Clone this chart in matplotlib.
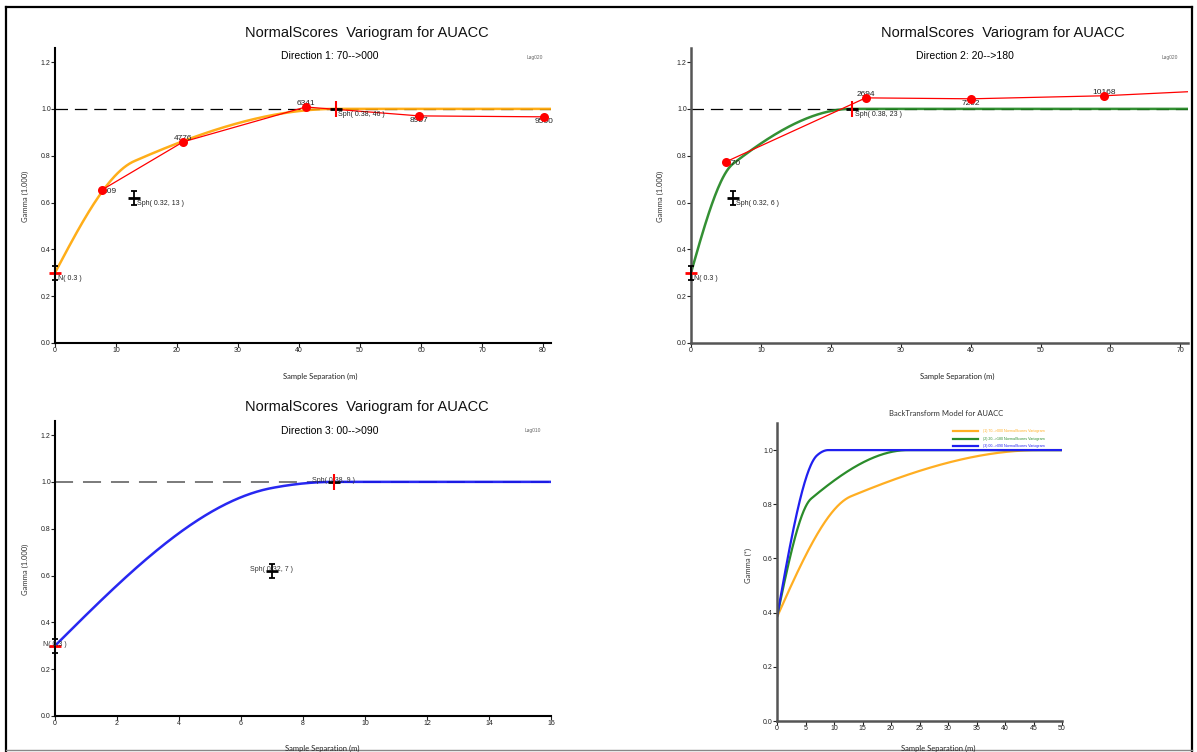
import numpy as np
import matplotlib
matplotlib.use("Agg")
import matplotlib.pyplot as plt
from matplotlib.path import Path
from matplotlib.lines import Line2D

plt.rcParams['font.family'] = ['Liberation Sans', 'DejaVu Sans']

dir1_lag = [7.7, 21.0, 41.1, 59.7, 80.2]
dir1_gamma = [0.654, 0.859, 1.008, 0.970, 0.966]
dir1_pairs = ['109', '4776', '6341', '8957', '9500']
dir1_side = ['right', 'above', 'above', 'below', 'below']

dir2_lag = [5.0, 25.0, 40.1, 59.1, 80.0]
dir2_gamma = [0.774, 1.047, 1.043, 1.056, 1.086]
dir2_pairs = ['170', '2694', '7292', '10168', '']
dir2_side = ['right', 'above', 'below', 'above', 'above']

# --- fitted model parameters (as labelled on the chart) ---
nugget = 0.3
dir1_struct = [(0.32, 13), (0.38, 46)]
dir2_struct = [(0.32, 6), (0.38, 23)]
dir3_struct = [(0.32, 7), (0.38, 9)]

# back transformed model
bt_nugget = 0.384
bt_contrib = [0.326, 0.29]
bt_labels = ['(1) 70-->000 NormalScores Variogram',
             '(2) 20-->180 NormalScores Variogram',
             '(3) 00-->090 NormalScores Variogram']
bt_colors = ['#FFAE22', '#2A8C2A', '#2020F0']

W, H = 1197, 752


def sph_model(h, c0, structs):
    g = np.full_like(h, c0, dtype=float)
    for c, a in structs:
        r = np.minimum(h / a, 1.0)
        g += c * (1.5 * r - 0.5 * r ** 3)
    return g


def px_axes(fig, x0, y0, x1, y1):
    return fig.add_axes([x0 / W, 1 - y1 / H, (x1 - x0) / W, (y1 - y0) / H])


def ftext(fig, x, y, s, **kw):
    fig.text(x / W, 1 - y / H, s, **kw)


ibeam = Path([(0, -1), (0, 1), (-0.45, 1), (0.45, 1), (-0.45, -1), (0.45, -1)],
             [Path.MOVETO, Path.LINETO, Path.MOVETO, Path.LINETO, Path.MOVETO, Path.LINETO])


def style_axes(ax, spine_color='black', lw=1.5):
    for s in ['top', 'right']:
        ax.spines[s].set_visible(False)
    for s in ['left', 'bottom']:
        ax.spines[s].set_color(spine_color)
        ax.spines[s].set_linewidth(lw)
    ax.tick_params(labelsize=5, length=3, width=0.8, pad=0, colors='#222222')


def ns_panel(ax, xmax, structs, color, sill_color='black', sill_lw=0.9, label_mode='side'):
    h = np.linspace(0, xmax, 500)
    ax.axhline(1.0, color=sill_color, lw=sill_lw, dashes=(10, 5.5), zorder=1)
    ax.plot(h, sph_model(h, nugget, structs), color=color, lw=1.8, alpha=0.9, zorder=2)
    # structure markers
    (c1, a1), (c2, a2) = structs
    ax.plot(0, nugget, marker='_', color='red', ms=9, mew=2, clip_on=False, zorder=5)
    ax.plot(0, nugget, marker=ibeam, color='black', ms=10, mew=1.3, fillstyle='none', clip_on=False, zorder=5)
    ax.plot(a1, nugget + c1, marker='_', color='black', ms=9, mew=2, zorder=5)
    ax.plot(a1, nugget + c1, marker=ibeam, color='black', ms=10, mew=1.3, fillstyle='none', zorder=5)
    ax.plot(a2, nugget + c1 + c2, marker='_', color='black', ms=9, mew=2, zorder=5)
    ax.plot(a2, nugget + c1 + c2, marker='|', color='red', ms=12, mew=1.5, zorder=6)
    labs = [(0, nugget, f'N( {nugget} )'),
            (a1, nugget + c1, f'Sph( {c1}, {a1} )'),
            (a2, nugget + c1 + c2, f'Sph( {c2}, {a2} )')]
    for x, y, s in labs:
        if label_mode == 'side':
            ax.annotate(s, (x, y), xytext=(2, -4), textcoords='offset points', fontsize=5,
                        ha='left', va='center', color='#222222', zorder=7, annotation_clip=False)
        else:
            ax.annotate(s, (x, y), xytext=(0, 1), textcoords='offset points', fontsize=5,
                        ha='center', va='center', color='#333333', zorder=7, annotation_clip=False)


def exp_points(ax, lags, gammas, pairs, sides):
    ax.plot(lags, gammas, color='red', lw=0.9, zorder=3)
    ax.plot(lags, gammas, 'o', color='red', ms=6.5, mec='none', zorder=4)
    for x, y, s, side in zip(lags, gammas, pairs, sides):
        if not s:
            continue
        if side == 'right':
            off, ha, va = (0, -1), 'left', 'center'
        elif side == 'above':
            off, ha, va = (0, 0), 'center', 'bottom'
        else:
            off, ha, va = (0, -1), 'center', 'top'
        t = ax.annotate(s, (x, y), xytext=off, textcoords='offset points', fontsize=6,
                        ha=ha, va=va, color='#222222', zorder=3.5)
        t.set_clip_on(True)


fig = plt.figure(figsize=(W / 100, H / 100), dpi=100)

# ---------------- Direction 1 ----------------
ax1 = px_axes(fig, 55, 48, 551, 343)
ns_panel(ax1, 81.3, dir1_struct, '#FFA500')
exp_points(ax1, dir1_lag, dir1_gamma, dir1_pairs, dir1_side)
ax1.set_xlim(0, 81.3)
ax1.set_ylim(0, 1.26)
ax1.set_xticks(np.arange(0, 81, 10))
ax1.set_yticks(np.arange(0, 1.21, 0.2))
ax1.yaxis.set_major_formatter('{x:.1f}')
style_axes(ax1)

# ---------------- Direction 2 ----------------
ax2 = px_axes(fig, 691, 48, 1188, 343)
ns_panel(ax2, 71.1, dir2_struct, '#1E841E')
exp_points(ax2, dir2_lag, dir2_gamma, dir2_pairs, dir2_side)
ax2.set_xlim(0, 71.1)
ax2.set_ylim(0, 1.26)
ax2.set_xticks(np.arange(0, 71, 10))
ax2.set_yticks(np.arange(0, 1.21, 0.2))
ax2.yaxis.set_major_formatter('{x:.1f}')
style_axes(ax2, spine_color='#555555', lw=1.8)

# ---------------- Direction 3 ----------------
ax3 = px_axes(fig, 55, 421, 551, 716)
ns_panel(ax3, 16, dir3_struct, '#1010F0', sill_color='#707070', sill_lw=1.3, label_mode='center')
ax3.set_xlim(0, 16)
ax3.set_ylim(0, 1.26)
ax3.set_xticks(np.arange(0, 17, 2))
ax3.set_yticks(np.arange(0, 1.21, 0.2))
ax3.yaxis.set_major_formatter('{x:.1f}')
style_axes(ax3)

# ---------------- Back transform ----------------
ax4 = px_axes(fig, 777, 423, 1062, 721)
hb = np.linspace(0, 50, 600)
for structs, col, lab in zip([dir1_struct, dir2_struct, dir3_struct], bt_colors, bt_labels):
    bt_structs = [(c, a) for c, (_, a) in zip(bt_contrib, structs)]
    ax4.plot(hb, sph_model(hb, bt_nugget, bt_structs), color=col, lw=1.6, label=lab)
ax4.set_xlim(0, 50)
ax4.set_ylim(0, 1.1)
ax4.set_xticks(np.arange(0, 51, 5))
ax4.set_yticks(np.arange(0, 1.01, 0.2))
ax4.yaxis.set_major_formatter('{x:.1f}')
style_axes(ax4, spine_color='#555555', lw=1.8)
ax4.legend(loc='upper right', bbox_to_anchor=(0.95, 0.99), frameon=False, fontsize=2.6,
           handlelength=7, handletextpad=1.2, labelspacing=1.0, labelcolor='linecolor')

# ---------------- texts ----------------
title = 'NormalScores  Variogram for AUACC'
ftext(fig, 367, 33, title, fontsize=10.5, ha='center', va='center', color='#111111')
ftext(fig, 330, 56, 'Direction 1: 70-->000', fontsize=7.5, ha='center', va='center')
ftext(fig, 1003, 33, title, fontsize=10.5, ha='center', va='center', color='#111111')
ftext(fig, 965, 56, 'Direction 2: 20-->180', fontsize=7.5, ha='center', va='center')
ftext(fig, 367, 407, title, fontsize=10.5, ha='center', va='center', color='#111111')
ftext(fig, 330, 431, 'Direction 3: 00-->090', fontsize=7.5, ha='center', va='center')
ftext(fig, 946, 414, 'BackTransform Model for AUACC', fontsize=5.5, ha='center', va='center',
      family='Lato', color='#333333')

for x, y, s in [(535, 58, 'Lag020'), (1170, 58, 'Lag020'), (533, 431, 'Lag010')]:
    ftext(fig, x, y, s, fontsize=3.5, ha='center', va='center', color='#666666')

for x, y in [(25, 196), (660, 196), (25, 569)]:
    ftext(fig, x, y, 'Gamma (1.000)', fontsize=5.5, rotation=90, ha='center', va='center',
          family='Lato', color='#333333')
ftext(fig, 748, 565, 'Gamma (*)', fontsize=5.5, rotation=90, ha='center', va='center',
      family='Lato', color='#333333')
for x, y in [(320, 376), (957, 376), (322, 748), (938, 748)]:
    ftext(fig, x, y, 'Sample Separation (m)', fontsize=5.5, ha='center', va='center',
          family='Lato', color='#222222')

# figure frame
fig.add_artist(Line2D([6 / W, 6 / W], [0, 1 - 7 / H], color='black', lw=1.6))
fig.add_artist(Line2D([6 / W, 1192 / W], [1 - 7 / H, 1 - 7 / H], color='black', lw=1.6))
fig.add_artist(Line2D([1192 / W, 1192 / W], [0, 1 - 7 / H], color='black', lw=1.6))
fig.add_artist(Line2D([6 / W, 1192 / W], [1 - 750 / H, 1 - 750 / H], color='#888888', lw=1))

fig.savefig('out.png', dpi=100)
